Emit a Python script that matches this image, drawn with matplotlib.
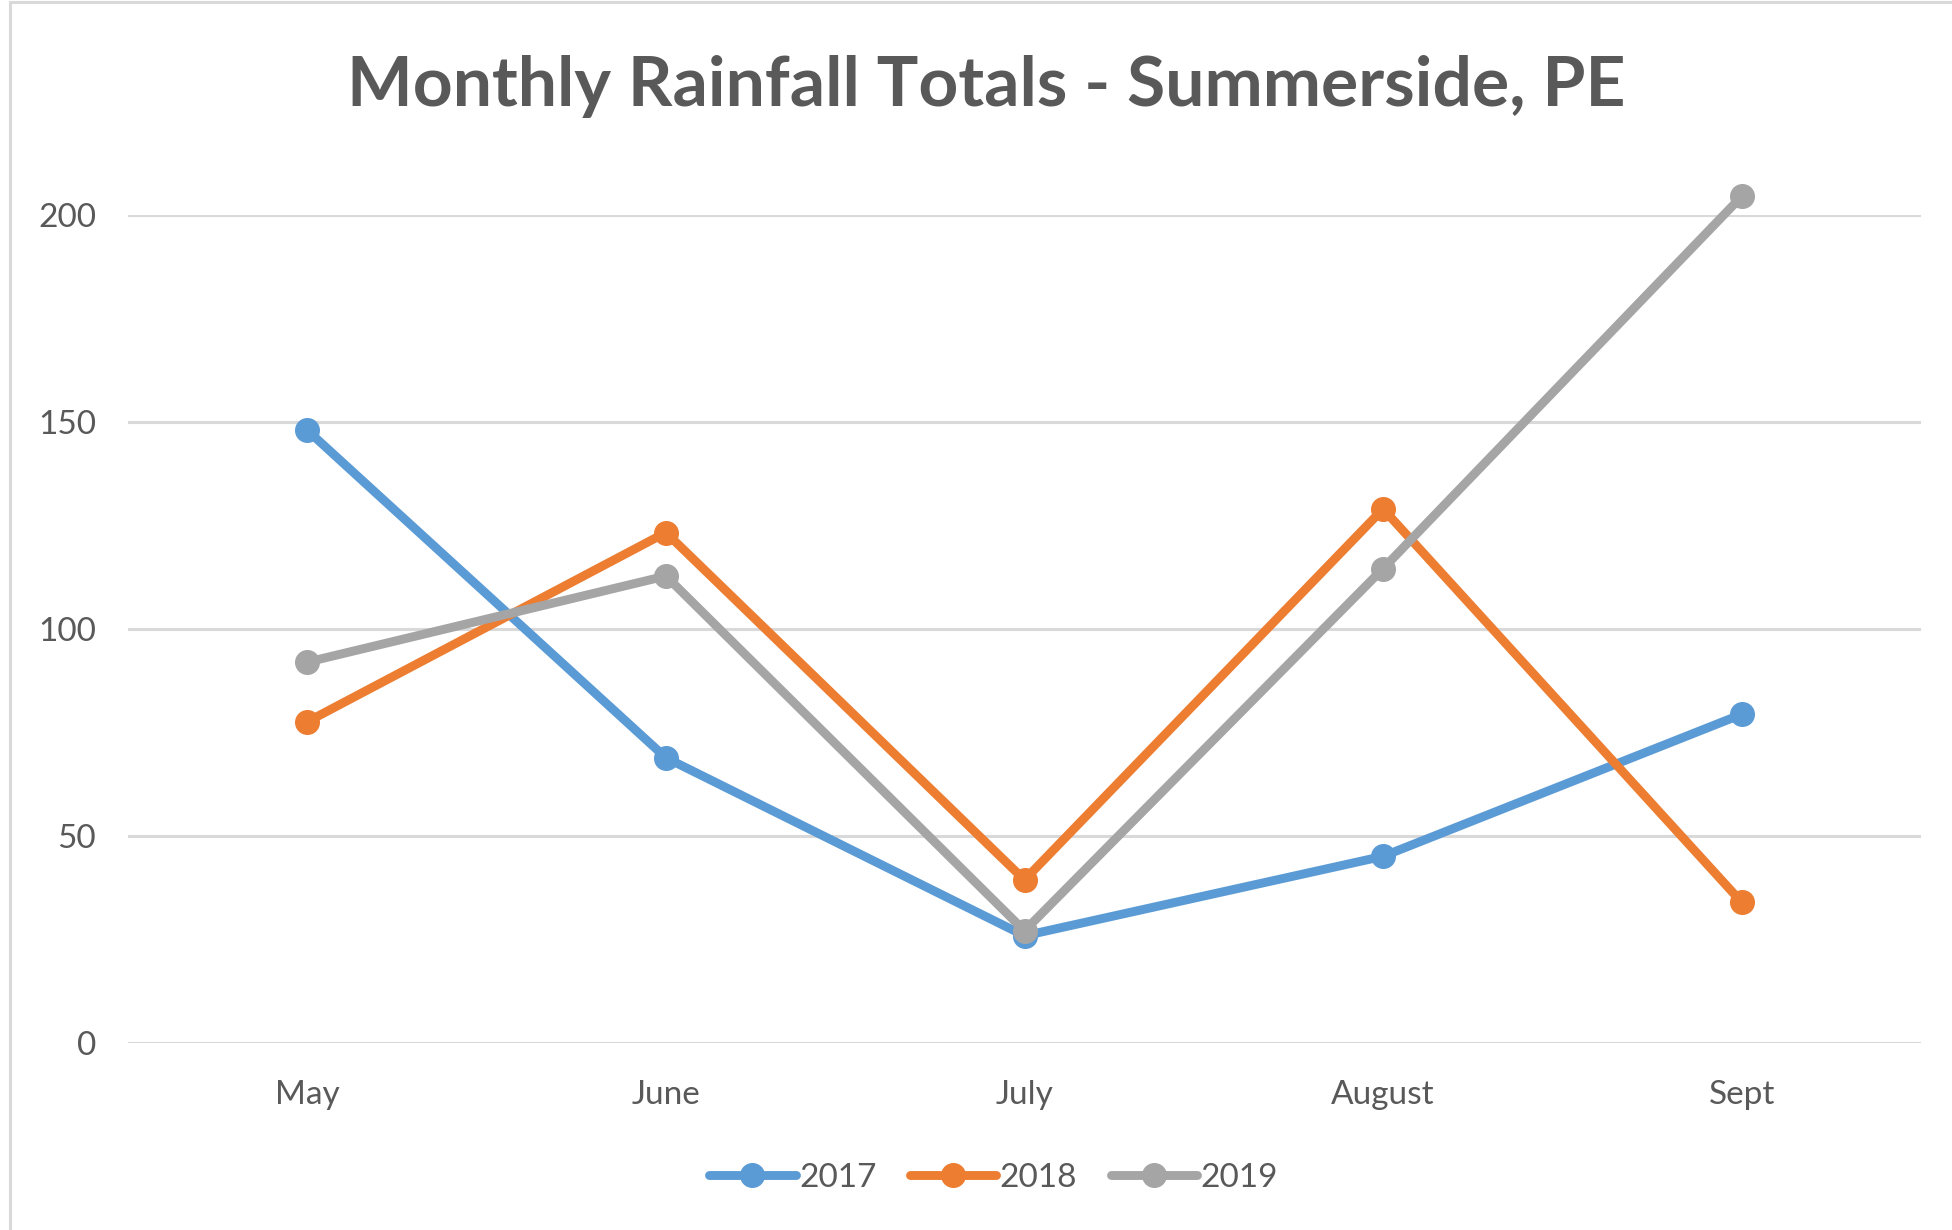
import matplotlib
matplotlib.use("Agg")
import matplotlib.pyplot as plt
from matplotlib.lines import Line2D

months = ["May", "June", "July", "August", "Sept"]
years = ["2017", "2018", "2019"]
rain_2017 = [148.0, 68.9, 25.9, 45.1, 79.4]
rain_2018 = [77.6, 123.3, 39.4, 129.0, 34.0]
rain_2019 = [92.0, 112.8, 27.1, 114.6, 204.5]
series = [rain_2017, rain_2018, rain_2019]
colors = ["#5B9BD5", "#ED7D31", "#A5A5A5"]
yticks = [0, 50, 100, 150, 200]
title = "Monthly Rainfall Totals - Summerside, PE"

FONT = "Lato"
TXT = "#595959"

fig = plt.figure(figsize=(19.52, 12.3), dpi=100)
W, H = 1952, 1230
ax = fig.add_axes([128 / W, 1 - 1043 / H, (1921 - 128) / W, (1043 - 215) / H])

x = list(range(len(months)))
for vals, c, lab in zip(series, colors, years):
    ax.plot(x, vals, color=c, lw=6.4, marker="o", ms=17, label=lab,
            solid_capstyle="round", solid_joinstyle="round", clip_on=False, zorder=3)

ax.set_xlim(-0.5, len(months) - 0.5)
ax.set_ylim(0, 200)
ax.set_yticks(yticks)
ax.set_xticks(x)
ax.set_xticklabels(months)
ax.grid(axis="y", color="#D9D9D9", lw=2.2, zorder=0)
ax.set_axisbelow(True)
for s in ax.spines.values():
    s.set_visible(False)
ax.tick_params(length=0, labelsize=24, labelcolor=TXT)
ax.tick_params(axis="y", pad=23)
ax.tick_params(axis="x", pad=27)
for t in ax.get_xticklabels() + ax.get_yticklabels():
    t.set_fontfamily(FONT)

fig.text(0.505, 0.930, title, ha="center", va="center", fontsize=50,
         fontweight="bold", color=TXT, family=FONT)

leg = fig.legend(loc="center", bbox_to_anchor=(0.509, 0.0425), ncol=3, frameon=False,
                 handlelength=2.6, handletextpad=0.1, columnspacing=1.0,
                 prop={"family": FONT, "size": 24})
for t in leg.get_texts():
    t.set_color(TXT)

# chart border (left and top edges visible)
fig.add_artist(Line2D([10 / W, 10 / W], [0, 1 - 1.5 / H], transform=fig.transFigure,
                      color="#D9D9D9", lw=2.2))
fig.add_artist(Line2D([10 / W, 1], [1 - 1.5 / H, 1 - 1.5 / H], transform=fig.transFigure,
                      color="#D9D9D9", lw=2.2))

fig.savefig("out.png", dpi=100, facecolor="white")
